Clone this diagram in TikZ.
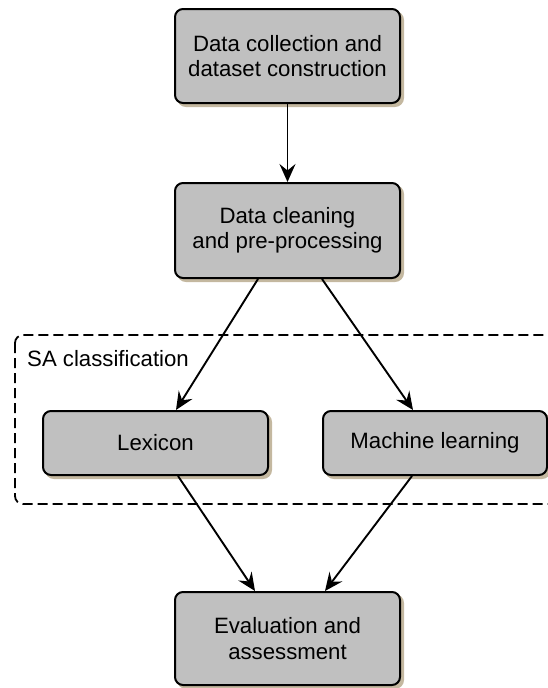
\documentclass[tikz,border=0pt]{standalone}
\usepackage{fontspec}
\setmainfont{Liberation Sans}
\usetikzlibrary{arrows.meta,calc}
\definecolor{boxfill}{RGB}{192,192,192}
\definecolor{shadowc}{RGB}{196,184,160}
\tikzset{
  lbl/.style={font=\fontsize{22.2}{25.5}\selectfont},
  stage/.style={lbl, draw=black, line width=2pt, fill=boxfill, rounded corners=8pt,
    align=center, inner sep=0pt,
    preaction={fill=shadowc, draw=shadowc, line width=2pt, transform canvas={shift={(3pt,-3pt)}}}},
  flow/.style={line width=1.9pt, -{Stealth[length=18pt,width=16pt,inset=6.5pt]}},
  group/.style={draw=black, line width=1.8pt, dash pattern=on 10pt off 5pt, rounded corners=8pt},
}
\begin{document}
\begin{tikzpicture}[x=1pt,y=-1pt]
\useasboundingbox (0,0) rectangle (548,688);
\clip (0,0) rectangle (548,688);
\draw[group] (15,335) rectangle (562,504);
\node[lbl, anchor=base west, inner sep=0pt] (sa) at (27,366) {SA classification};
\node[stage, minimum width=225pt, minimum height=94pt] (b1) at (287.5,56) {Data collection and\\dataset construction};
\node[stage, minimum width=225pt, minimum height=95pt] (b2) at (287.5,230.5) {Data cleaning\\and pre-processing};
\node[stage, minimum width=225pt, minimum height=64pt] (lex) at (155.5,443) {Lexicon};
\node[stage, minimum width=224pt, minimum height=64pt] (ml) at (435,443) {Machine learning};
\node[stage, minimum width=225pt, minimum height=93pt] (ev) at (287.5,638.5) {Evaluation and\\assessment};
\draw[flow] (b1.south) -- (b2.north);
\draw[flow] ([xshift=-29.5pt]b2.south) -- ([xshift=20.5pt]lex.north);
\draw[flow] ([xshift=34.5pt]b2.south) -- ([xshift=-22pt]ml.north);
\draw[flow] ([xshift=22.5pt]lex.south) -- ([xshift=-32.5pt]ev.north);
\draw[flow] ([xshift=-23pt]ml.south) -- ([xshift=37.5pt]ev.north);
\end{tikzpicture}
\end{document}
